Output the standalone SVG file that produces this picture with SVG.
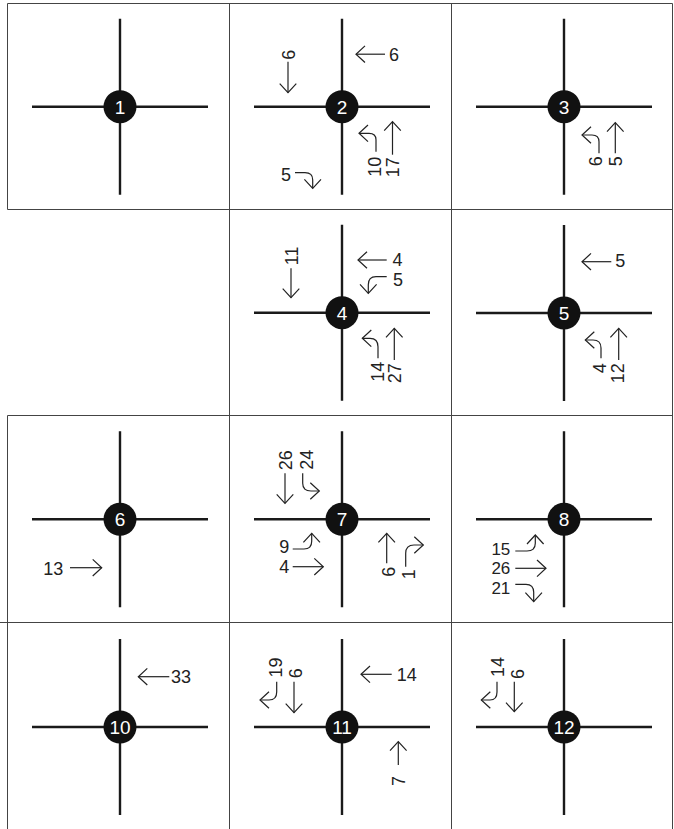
<svg xmlns="http://www.w3.org/2000/svg" width="674" height="829" viewBox="0 0 674 829">
<style>
.grid{stroke:#444;stroke-width:1;fill:none}
.road{stroke:#1a1a1a;stroke-width:2.4;fill:none}
.dot{fill:#111}
.num{font-family:"Liberation Sans",Arial,sans-serif;font-size:19px;fill:#fff;text-anchor:middle}
.ar{stroke:#222;stroke-width:1.2;fill:none;marker-end:url(#ah)}
.lbl{font-family:"Liberation Sans",Arial,sans-serif;font-size:18px;fill:#222}
.sm{font-size:17px}
.e{text-anchor:end}
</style>
<defs>
<marker id="ah" viewBox="-10 -9 11 18" refX="0" refY="0" markerWidth="11" markerHeight="18" markerUnits="userSpaceOnUse" orient="auto" overflow="visible">
<path d="M-9,-8.3 L0,0 L-9,8.3" fill="none" stroke="#222" stroke-width="1.2"/>
</marker>
<g id="x">
<path class="road" d="M-88,0 H88 M0,-88 V88"/>
<circle class="dot" r="16.5"/>
</g>
</defs>
<g id="grid">
<path class="grid" d="M7.5,3.5 H672.5 M7.5,209.5 H672.5 M7.5,415.5 H672.5 M0,622.5 H672.5 M7.5,3.5 V209.5 M7.5,415.5 V829 M229.5,3.5 V829 M451.5,3.5 V829 M672.5,3.5 V829"/>
</g>
<g id="n1" transform="translate(120,106.7)">
<use href="#x"/><text class="num" y="6.8">1</text>
</g>
<g id="n2" transform="translate(342,106.7)">
<use href="#x"/><text class="num" y="6.8">2</text>
<path class="ar" d="M-54,-45 V-14"/><text class="lbl" transform="translate(-46.6,-47) rotate(-90)">6</text>
<path class="ar" d="M43,-52.5 H14"/><text class="lbl" x="47" y="-45.8">6</text>
<path class="ar" d="M34,45 V33 Q34,26.6 27,26.6 H17"/><text class="lbl e" transform="translate(39.4,50) rotate(-90)">10</text>
<path class="ar" d="M50.5,48 V15"/><text class="lbl e" transform="translate(56.7,50.5) rotate(-90)">17</text>
<path class="ar" d="M-47,66 H-37 Q-29.3,66 -29.3,73 V81.6"/><text class="lbl e" x="-51" y="74.3">5</text>
</g>
<g id="n3" transform="translate(564,106.7)">
<use href="#x"/><text class="num" y="6.8">3</text>
<path class="ar" d="M35,46.6 V35 Q35,28.3 28,28.3 H18"/><text class="lbl e" transform="translate(38.4,49.5) rotate(-90)">6</text>
<path class="ar" d="M51.3,46.6 V16"/><text class="lbl e" transform="translate(57.7,49.5) rotate(-90)">5</text>
</g>
<g id="n4" transform="translate(342,312.7)">
<use href="#x"/><text class="num" y="6.8">4</text>
<path class="ar" d="M-51,-44.4 V-15"/><text class="lbl" transform="translate(-43.9,-47.5) rotate(-90)">11</text>
<path class="ar" d="M44.7,-52.7 H16"/><text class="lbl" x="50.5" y="-47">4</text>
<path class="ar" d="M44.7,-36 H34 Q26.3,-36 26.3,-28 V-19.4"/><text class="lbl" x="51" y="-27">5</text>
<path class="ar" d="M36,45.6 V34 Q36,25.6 28,25.6 H20.3"/><text class="lbl e" transform="translate(41.7,49) rotate(-90)">14</text>
<path class="ar" d="M52.3,47.3 V15.6"/><text class="lbl e" transform="translate(58.7,50.5) rotate(-90)">27</text>
</g>
<g id="n5" transform="translate(564,313)">
<use href="#x"/><text class="num" y="6.8">5</text>
<path class="ar" d="M47.3,-51.3 H18"/><text class="lbl" x="51.3" y="-45.7">5</text>
<path class="ar" d="M37,45.3 V35 Q37,27 29,27 H21.3"/><text class="lbl e" transform="translate(41.7,50.3) rotate(-90)">4</text>
<path class="ar" d="M54.7,47 V15.3"/><text class="lbl e" transform="translate(60.1,50.3) rotate(-90)">12</text>
</g>
<g id="n6" transform="translate(120,519.3)">
<use href="#x"/><text class="num" y="6.8">6</text>
<path class="ar" d="M-50,48.4 H-18.3"/><text class="lbl e" x="-56.7" y="55.7">13</text>
</g>
<g id="n7" transform="translate(342,519.3)">
<use href="#x"/><text class="num" y="6.8">7</text>
<path class="ar" d="M-57,-46 V-16"/><text class="lbl" transform="translate(-49.8,-49) rotate(-90)">26</text>
<path class="ar" d="M-39.3,-46 V-36 Q-39.3,-28.3 -31,-28.3 H-22.7"/><text class="lbl" transform="translate(-29.4,-49.5) rotate(-90)">24</text>
<path class="ar" d="M-49.3,29.7 H-38 Q-30.3,29.7 -30.3,22 V14"/><text class="lbl e" x="-52.7" y="34">9</text>
<path class="ar" d="M-49.3,47.4 H-18.7"/><text class="lbl e" x="-52.7" y="53.4">4</text>
<path class="ar" d="M44.7,44 V14"/><text class="lbl e" transform="translate(53.4,47.5) rotate(-90)">6</text>
<path class="ar" d="M63.7,47.4 V34 Q63.7,25.7 72,25.7 H81.3"/><text class="lbl e" transform="translate(73.4,50) rotate(-90)">1</text>
</g>
<g id="n8" transform="translate(564,519.3)">
<use href="#x"/><text class="num" y="6.8">8</text>
<path class="ar" d="M-48.7,31.7 H-37 Q-28.7,31.7 -28.7,24 V15.7"/><text class="lbl sm e" x="-53.7" y="36">15</text>
<path class="ar" d="M-48.7,49 H-18"/><text class="lbl sm e" x="-53.7" y="55.2">26</text>
<path class="ar" d="M-48.7,65 H-38 Q-30.3,65 -30.3,73 V82.4"/><text class="lbl sm e" x="-53.7" y="74.5">21</text>
</g>
<g id="n10" transform="translate(120,727)">
<use href="#x"/><text class="num" y="6.8">10</text>
<path class="ar" d="M49.3,-50.3 H18.3"/><text class="lbl" x="51" y="-44.3">33</text>
</g>
<g id="n11" transform="translate(342,727)">
<use href="#x"/><text class="num" y="6.8">11</text>
<path class="ar" d="M-65.3,-45.3 V-35 Q-65.3,-27 -73,-27 H-82"/><text class="lbl" transform="translate(-59.8,-49.5) rotate(-90)">19</text>
<path class="ar" d="M-48,-45.3 V-14.3"/><text class="lbl" transform="translate(-39.9,-48.7) rotate(-90)">6</text>
<path class="ar" d="M49.7,-52.7 H19"/><text class="lbl" x="54.7" y="-46.3">14</text>
<path class="ar" d="M56.3,38 V14.7"/><text class="lbl e" transform="translate(63.2,49) rotate(-90)">7</text>
</g>
<g id="n12" transform="translate(564,727)">
<use href="#x"/><text class="num" y="6.8">12</text>
<path class="ar" d="M-67,-45.3 V-35 Q-67,-27 -74,-27 H-82.7"/><text class="lbl" transform="translate(-60.1,-50) rotate(-90)">14</text>
<path class="ar" d="M-49.7,-45.3 V-15.3"/><text class="lbl" transform="translate(-40.3,-48)  rotate(-90)">6</text>
</g>
</svg>
